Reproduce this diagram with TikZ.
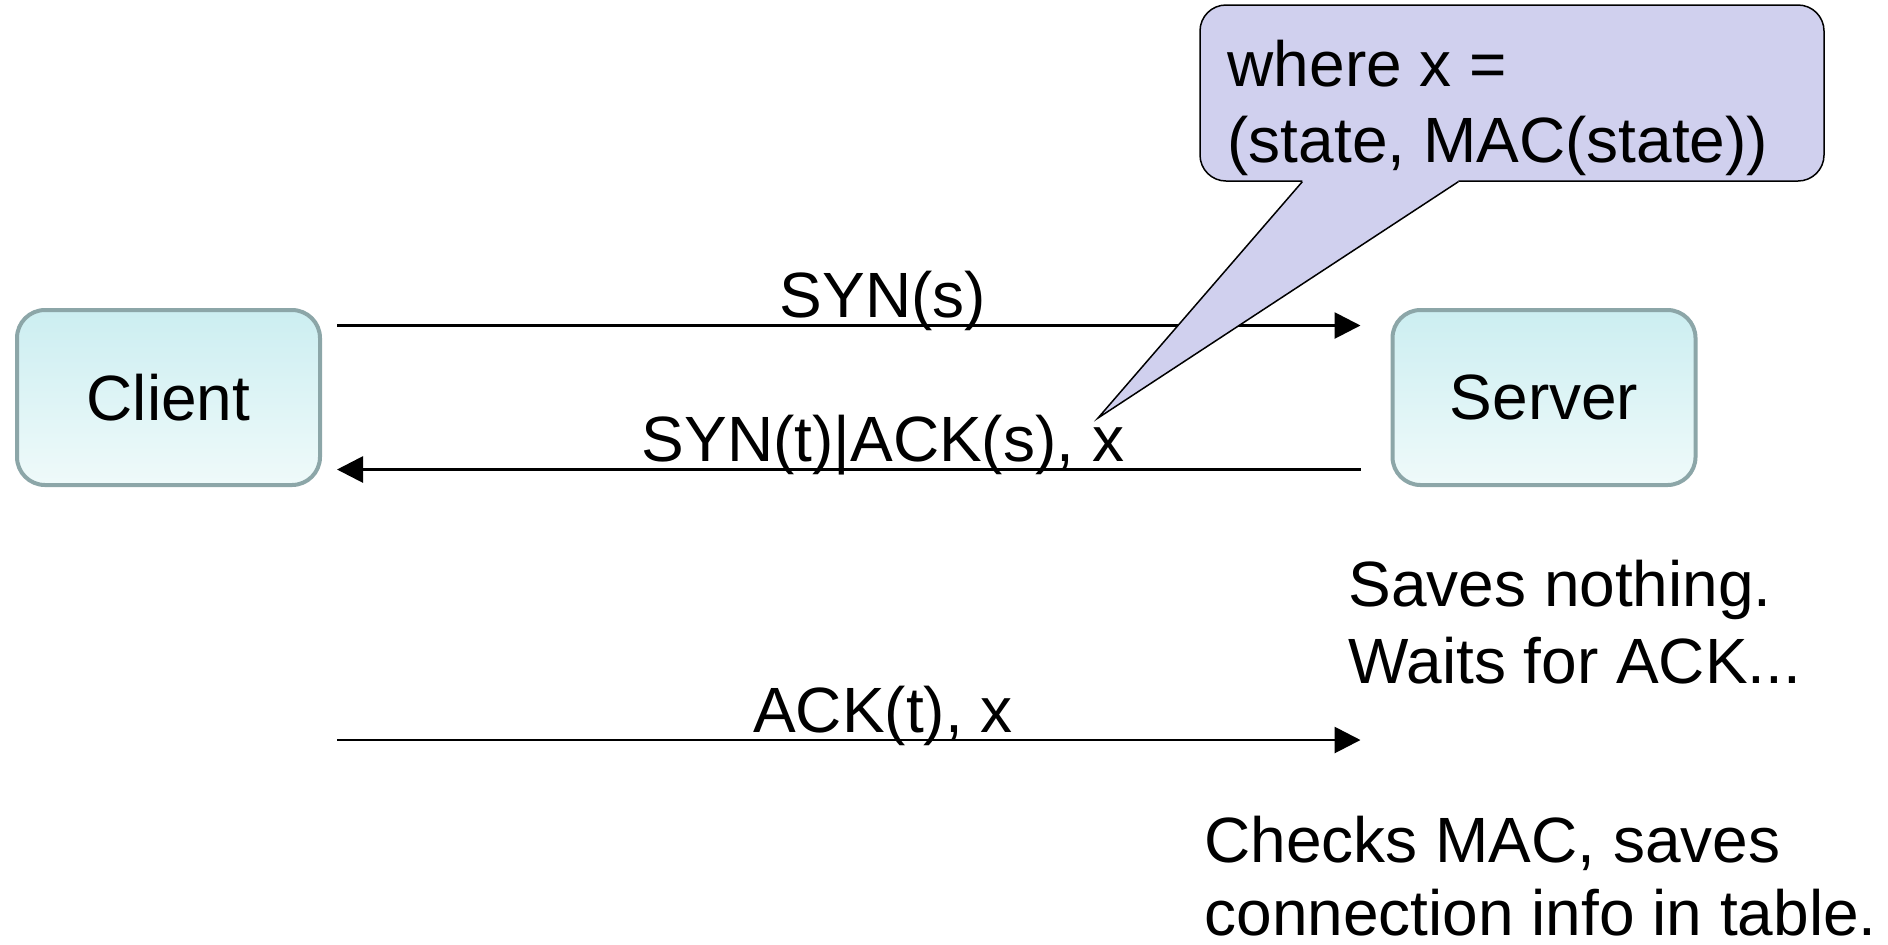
\documentclass[tikz,border=0pt]{standalone}
\usepackage{fontspec}
\setmainfont{Liberation Sans}
\usetikzlibrary{arrows.meta,positioning}
\definecolor{HostEdge}{HTML}{8CA6A8}
\definecolor{HostTop}{HTML}{CCEEF1}
\definecolor{HostBot}{HTML}{EFFAFA}
\definecolor{NoteFill}{HTML}{D0D0EE}

\begin{document}
\begin{tikzpicture}[
    x=0.5pt, y=-0.5pt,
    font=\fontsize{32}{38}\selectfont,
    host/.style={rounded corners=14pt, draw=HostEdge, line width=2pt, top color=HostTop, bottom color=HostBot,
                 minimum width=151.5pt, minimum height=87.5pt},
    bubble/.style={rounded corners=13pt, draw=black, line width=0.75pt, fill=NoteFill,
                   minimum width=312pt, minimum height=88pt, inner sep=0pt},
    line/.style={anchor=base west, inner sep=0pt},
    lbl/.style={anchor=base, inner sep=0pt, yshift=4pt},
    msg/.style={-{Triangle[length=13pt,width=13pt]}, line width=1.4pt},
  ]
    \useasboundingbox (0,0) rectangle (1888,944);

    % ---- hosts ----
    \node[host] (client) at (168.5,397.5) {Client};
    \node[host] (server) at (1544,397.5) {Server};

    % ---- messages ----
    \coordinate (cack) at (client.east |- 0,740);
    \coordinate (sack) at (server.west |- 0,740);
    \draw[msg, shorten <=7.5pt, shorten >=15pt] ([yshift=36pt]client.east) -- node[lbl, pos=.525] {SYN(s)} ([yshift=36pt]server.west);
    \draw[msg, shorten <=15pt, shorten >=7.5pt] ([yshift=-36pt]server.west) -- node[lbl, pos=.475] {SYN(t)|ACK(s), x} ([yshift=-36pt]client.east);
    \draw[msg, shorten <=7.5pt, shorten >=15pt] (cack) -- node[lbl, pos=.525] {ACK(t), x} (sack);

    % ---- server notes ----
    \node[line] (saves) at (1348,606) {Saves nothing.};
    \node[line] (waits) at (1348,683) {Waits for ACK...};
    \node[line] (checks) at (1204,862) {Checks MAC, saves};
    \node[line] (table) at (1204,935) {connection info in table.};

    % ---- callout ----
    \node[bubble] (note) at (1512,93) {};
    \coordinate (tip) at (1098,418);
    \fill[NoteFill] ([xshift=51.5pt]note.south west) -- (tip) -- ([xshift=129.5pt]note.south west)
      -- ([xshift=129.5pt,yshift=3pt]note.south west) -- ([xshift=51.5pt,yshift=3pt]note.south west) -- cycle;
    \draw[line width=0.75pt] ([xshift=51.5pt]note.south west) -- (tip) -- ([xshift=129.5pt]note.south west);
    \node[line] at ([xshift=14pt,yshift=-41pt]note.north west) {where x =};
    \node[line] at ([xshift=14pt,yshift=-79pt]note.north west) {(state, MAC(state))};
  \end{tikzpicture}
\end{document}
